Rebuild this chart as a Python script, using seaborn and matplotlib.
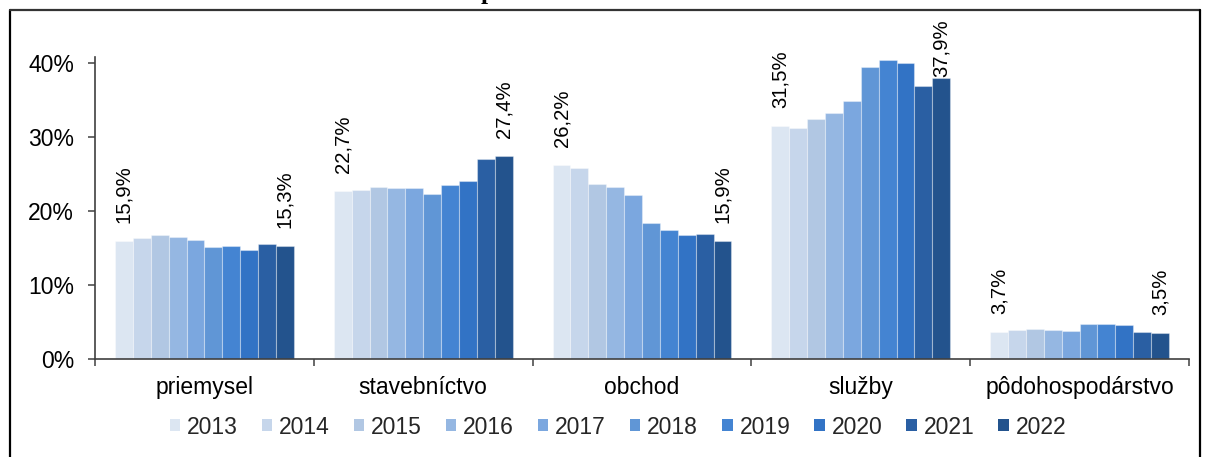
import matplotlib
matplotlib.use("Agg")
import matplotlib.pyplot as plt
import seaborn as sns
import pandas as pd
from matplotlib.ticker import FixedLocator

categories = ["priemysel", "stavebníctvo", "obchod", "služby", "pôdohospodárstvo"]
years = ["2013", "2014", "2015", "2016", "2017", "2018", "2019", "2020", "2021", "2022"]
priemysel = [15.9, 16.4, 16.7, 16.5, 16.1, 15.1, 15.2, 14.7, 15.5, 15.3]
stavebnictvo = [22.7, 22.8, 23.2, 23.1, 23.1, 22.3, 23.5, 24.0, 27.0, 27.4]
obchod = [26.2, 25.8, 23.6, 23.2, 22.1, 18.4, 17.4, 16.7, 16.9, 15.9]
sluzby = [31.5, 31.2, 32.4, 33.3, 34.8, 39.5, 40.4, 40.0, 36.9, 37.9]
podohospodarstvo = [3.7, 3.9, 4.0, 3.9, 3.8, 4.7, 4.7, 4.6, 3.6, 3.5]
ytick_vals = [0, 10, 20, 30, 40]
ytick_labels = ["0%", "10%", "20%", "30%", "40%"]

colors = ["#DCE6F2", "#C6D6EB", "#B1C7E3", "#95B7E2", "#7BA7DF",
          "#6096D6", "#4484D2", "#3273C5", "#2A5FA3", "#23538D"]

series = [priemysel, stavebnictvo, obchod, sluzby, podohospodarstvo]
rows = []
for cat, vals in zip(categories, series):
    for yr, v in zip(years, vals):
        rows.append({"kategória": cat, "rok": yr, "hodnota": v})
df = pd.DataFrame(rows)

sns.set_theme(style="white")
plt.rcParams["font.family"] = ["Liberation Sans", "DejaVu Sans"]

W, H = 1206, 457
fig = plt.figure(figsize=(W / 100, H / 100), dpi=100)
ax = fig.add_axes([95 / W, 1 - 359 / H, (1189 - 95) / W, (359 - 57) / H])

sns.barplot(data=df, x="kategória", y="hodnota", hue="rok", order=categories,
            hue_order=years, palette=colors, width=0.817, saturation=1,
            edgecolor=(1, 1, 1, 0.35), linewidth=0.8, ax=ax, legend=True)

YMAX = 40.8
ax.set_xlim(-0.5, len(categories) - 0.5)
ax.set_ylim(0, YMAX)
ax.set_xlabel("")
ax.set_ylabel("")
ax.set_yticks(ytick_vals)
ax.set_yticklabels(ytick_labels)
ax.xaxis.set_minor_locator(FixedLocator([i - 0.5 for i in range(len(categories) + 1)]))

for s in ["top", "right"]:
    ax.spines[s].set_visible(False)
for s in ["left", "bottom"]:
    ax.spines[s].set_color("#404040")
    ax.spines[s].set_linewidth(1.2)

ax.tick_params(axis="y", which="major", direction="out", length=5, width=1.1,
               color="#404040", left=True, labelsize=16.5, pad=10, labelcolor="black")
ax.tick_params(axis="x", which="major", length=0, labelsize=16.5, pad=12, labelcolor="black")
ax.tick_params(axis="x", which="minor", direction="out", length=5, width=1.1,
               color="#404040", bottom=True)

# data labels on first and last bar of each group
px_per_unit = (359 - 57) / YMAX
gap = 18 / px_per_unit          # normal gap above the bar
cap = YMAX + (37 - 57) / px_per_unit  # keep labels inside the chart frame
for idx in (0, len(years) - 1):
    cont = ax.containers[idx]
    for bar in cont:
        v = bar.get_height()
        ypos = min(v + gap, cap)
        ax.text(bar.get_x() + bar.get_width() / 2, ypos,
                f"{v:.1f}%".replace(".", ","),
                rotation=90, ha="center", va="bottom",
                fontsize=14.6, color="black", clip_on=False)

ax.legend_.remove()
handles = [plt.Rectangle((0, 0), 1, 1, facecolor=c, edgecolor="none") for c in colors]
fig.legend(handles, years, loc="center", bbox_to_anchor=(618 / W, 1 - 427 / H),
           ncol=10, frameon=False, fontsize=16.5, handlelength=0.45, handleheight=0.45,
           handletextpad=0.3, columnspacing=1.05, borderaxespad=0, borderpad=0)

# figure border (box continues beyond bottom edge)
lw = 1.6
fig.add_artist(plt.Line2D([10 / W, 10 / W], [1 - 10 / H, 0], transform=fig.transFigure, color="black", lw=lw))
fig.add_artist(plt.Line2D([10 / W, 1200 / W], [1 - 10 / H, 1 - 10 / H], transform=fig.transFigure, color="#333333", lw=lw))
fig.add_artist(plt.Line2D([1200 / W, 1200 / W], [1 - 10 / H, 0], transform=fig.transFigure, color="black", lw=lw))

# cropped title (only the descender is visible, as in the reference)
fig.text(488 / W, 1 + 1.0 / H, "p", ha="center", va="baseline", fontsize=18,
         fontweight="bold", family=["Liberation Serif", "DejaVu Serif"], color="black")

fig.savefig("out.png", dpi=100)
